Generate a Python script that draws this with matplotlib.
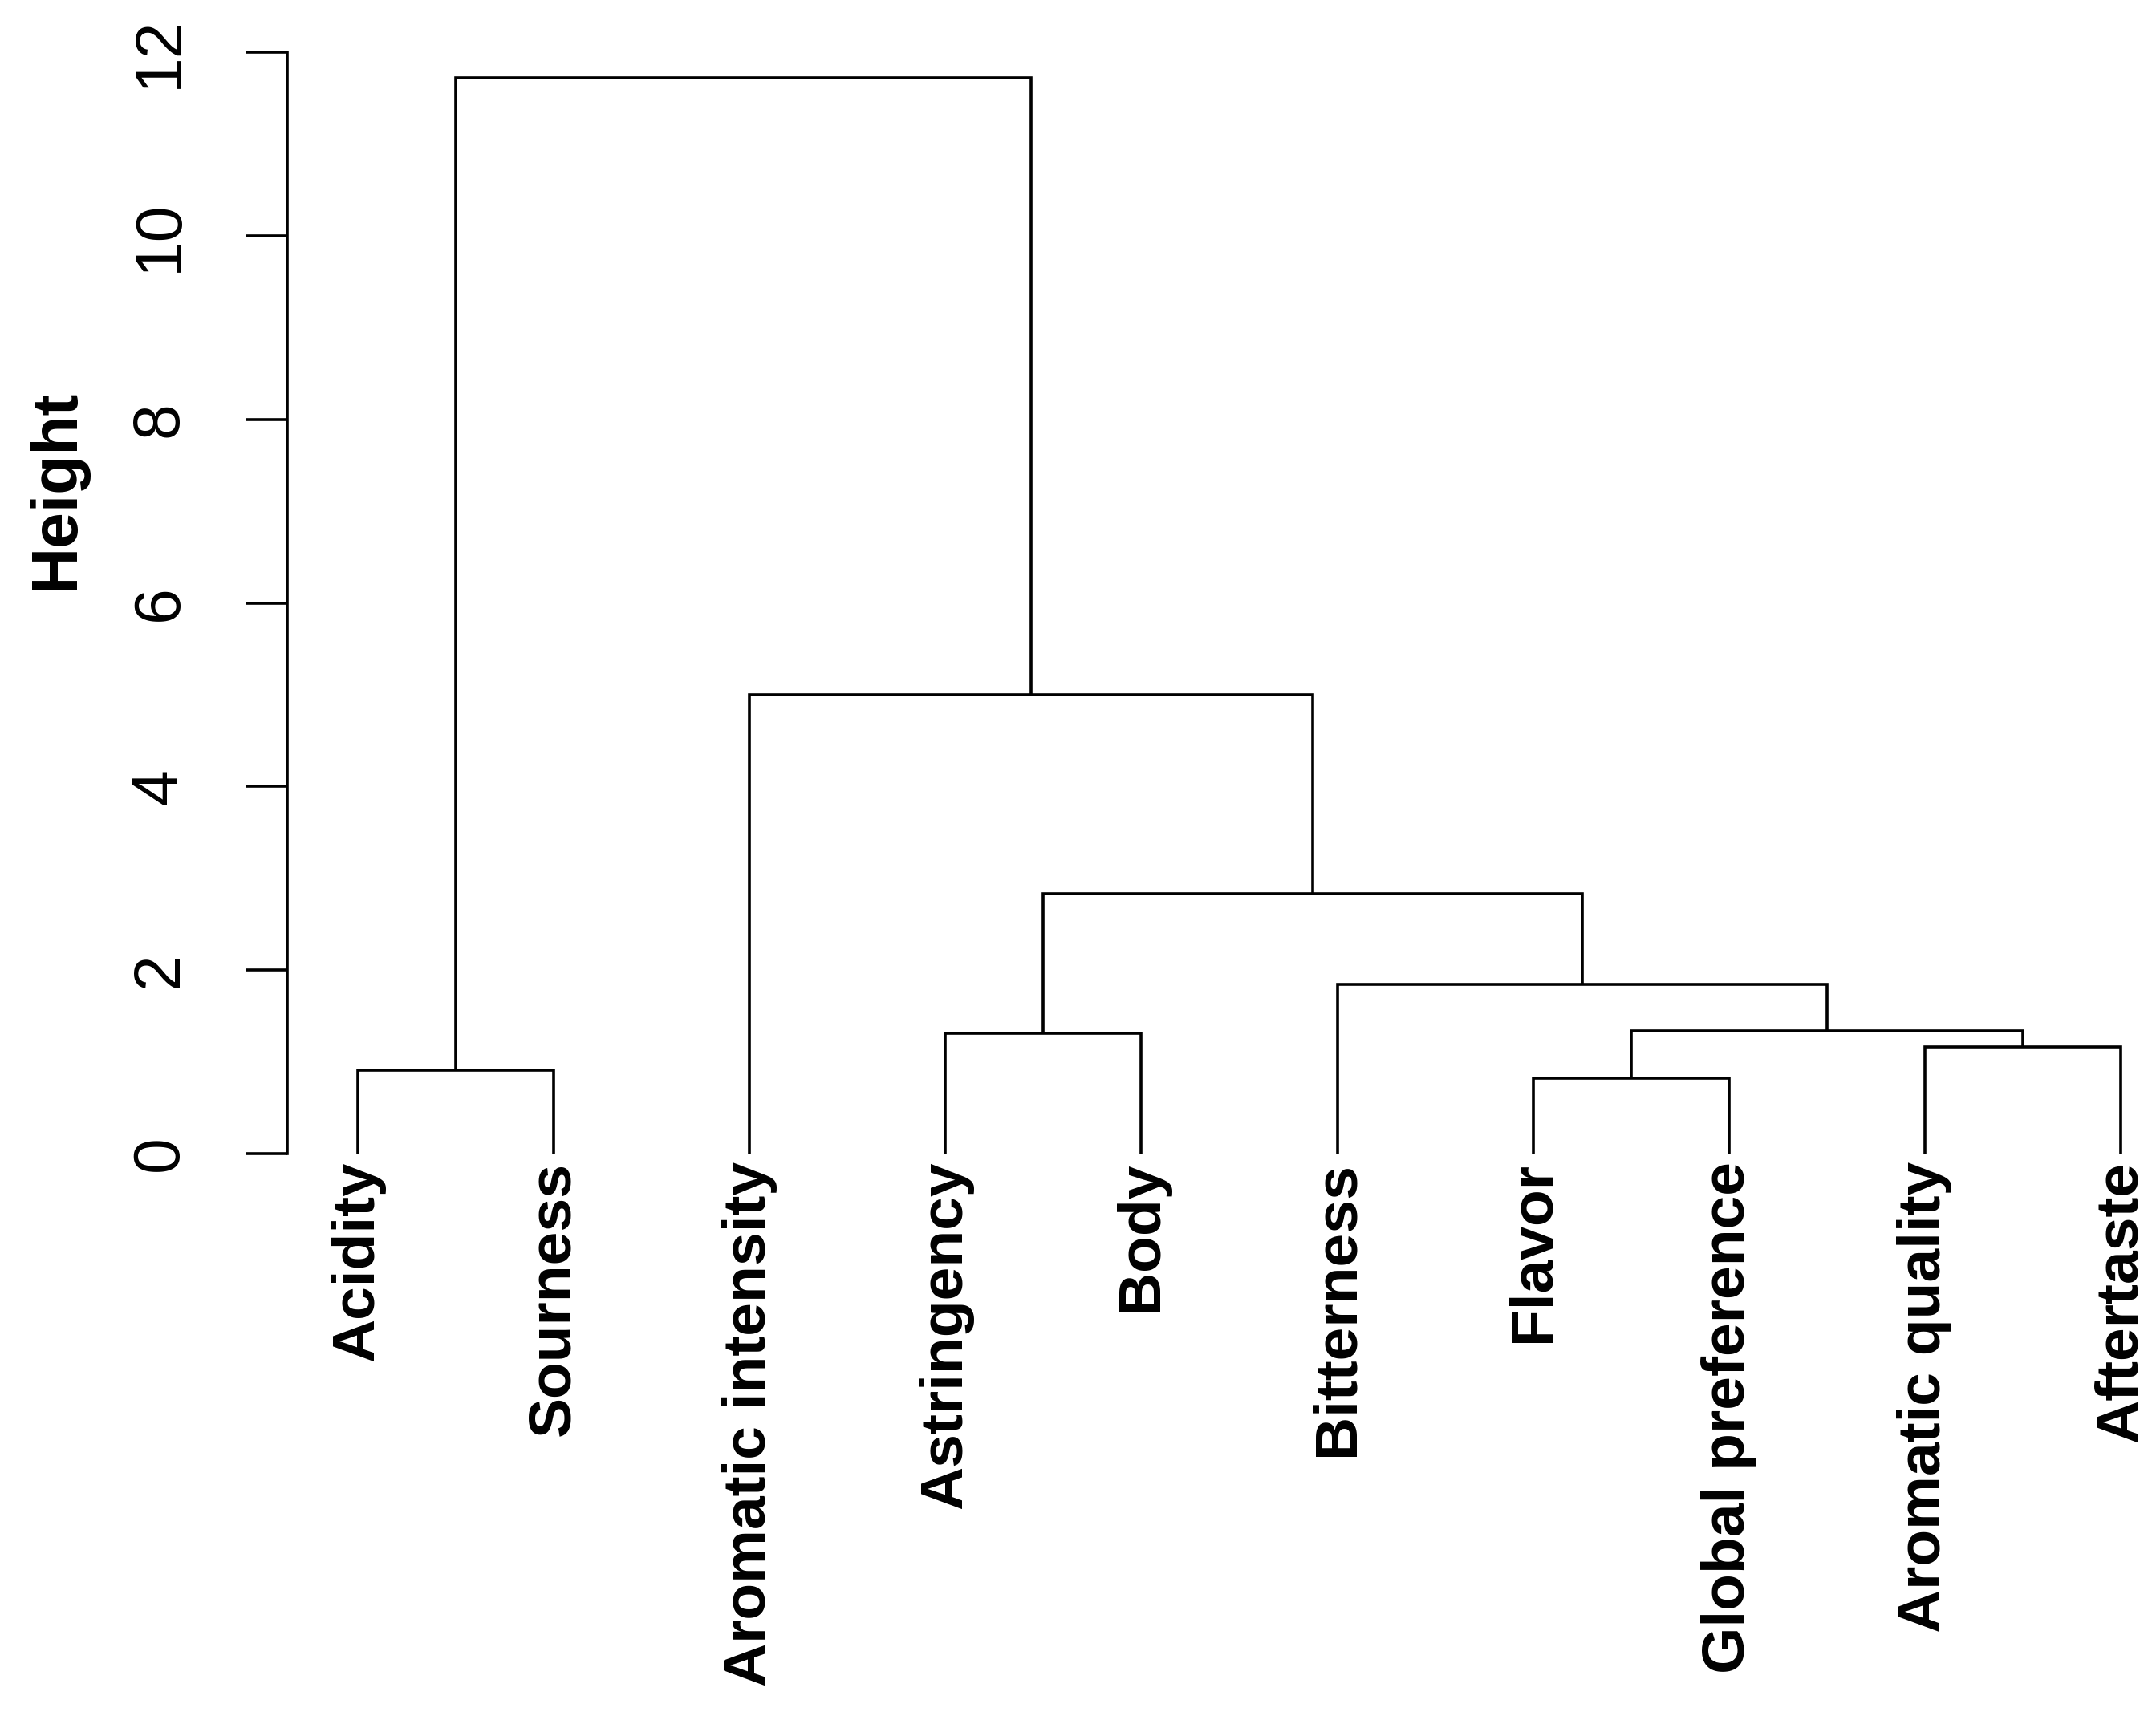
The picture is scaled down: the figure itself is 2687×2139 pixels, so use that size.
import matplotlib
matplotlib.use("Agg")
import matplotlib.pyplot as plt

plt.rcParams['font.family'] = ['Liberation Sans', 'DejaVu Sans']

# leaf order as drawn
labels = ["Acidity", "Sourness", "Aromatic intensity", "Astringency", "Body",
          "Bitterness", "Flavor", "Global preference", "Aromatic quality", "Aftertaste"]

# merges: (left, right, height); ints >= 0 are leaves, strings are earlier merges
merge_left = [0, 6, 8, 3, "m2", 5, "m4", 2, "m1"]
merge_right = [1, 7, 9, 4, "m3", "m5", "m6", "m7", "m8"]
merge_height = [0.91, 0.82, 1.16, 1.31, 1.34, 1.84, 2.83, 5.00, 11.72]

yticks = [0, 2, 4, 6, 8, 10, 12]

W, H = 2687, 2139
fig = plt.figure(figsize=(W / 100, H / 100), dpi=100)
ax = fig.add_axes([358 / W, 1 - 1438 / H, 1 - 358 / W, (1438 - 65) / H])

lw = 2.6
pos = {}  # node -> (x, y)
for i in range(len(labels)):
    pos[i] = (i + 1, 0.0)

for k, (l, r, h) in enumerate(zip(merge_left, merge_right, merge_height)):
    xl, yl = pos[l]
    xr, yr = pos[r]
    ax.plot([xl, xl, xr, xr], [yl, h, h, yr], color='black', lw=lw,
            solid_capstyle='butt', solid_joinstyle='miter', clip_on=False)
    pos["m%d" % (k + 1)] = ((xl + xr) / 2, h)

for i, lab in enumerate(labels):
    ax.annotate(lab, (i + 1, 0), xytext=(0, -7), textcoords='offset points',
                rotation=90, rotation_mode='anchor', ha='right', va='center',
                fontsize=54, fontweight='bold', annotation_clip=False)

ax.set_xlim(1 - 88 / 244.1, 10 + 44 / 244.1)
ax.set_ylim(0, 12)
for s in ['top', 'right', 'bottom']:
    ax.spines[s].set_visible(False)
ax.spines['left'].set_linewidth(lw)
ax.spines['left'].set_bounds(0, 12)
ax.set_xticks([])
ax.set_yticks(yticks)
ax.set_yticklabels([str(t) for t in yticks], rotation=90, va='center', fontsize=58)
ax.tick_params(axis='y', direction='out', length=36.5, width=lw, pad=50)

fig.text(92 / W, 1 - 610 / H, "Height", rotation=90, rotation_mode='anchor',
         ha='center', va='baseline', fontsize=58, fontweight='bold')

fig.savefig("out.png", dpi=100, facecolor='white')
